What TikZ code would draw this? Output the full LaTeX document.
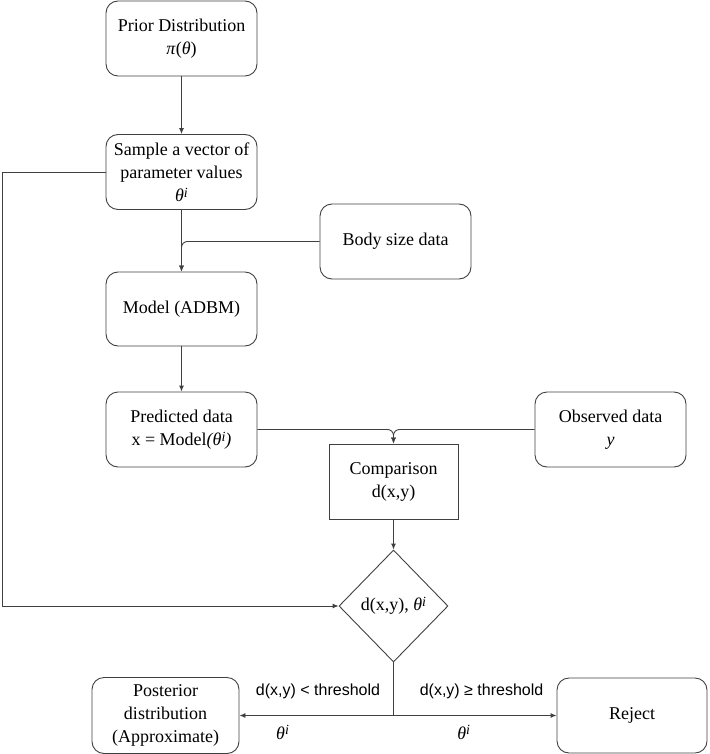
\documentclass[tikz,border=0pt]{standalone}
\usepackage{fontspec}
\setmainfont{Liberation Serif}
\newfontfamily\lsans{Liberation Sans}
\usetikzlibrary{arrows.meta,shapes.geometric}

\newcommand{\supi}{\raisebox{0.5ex}{\fontsize{14}{14}\selectfont\textit{i}}}
\newcommand{\thi}{\textit{θ}\supi}

\begin{document}
\begin{tikzpicture}[x=1pt, y=-1pt,
    box/.style={rectangle, rounded corners=12pt, draw=black!75, line width=0.9pt,
                minimum width=151pt, minimum height=75pt, inner sep=0pt,
                align=center, font=\fontsize{18}{23}\selectfont},
    cmp/.style={box, sharp corners, minimum width=129pt},
    dec/.style={diamond, aspect=1, draw=black!75, line width=0.9pt,
                minimum width=109pt, minimum height=112pt, inner sep=0pt,
                font=\fontsize{18}{23}\selectfont},
    tr/.style={-{Latex[length=6pt,width=5pt]}, line width=0.9pt, draw=black!75},
    ln/.style={line width=0.9pt, draw=black!75},
    lbl/.style={font=\lsans\fontsize{16}{19}\selectfont}
]
\useasboundingbox (0,0) rectangle (709,754);

\node[box] (prior) at (181.5,38.5) {Prior Distribution\\\textit{π}(\textit{θ})};
\node[box] (sample) at (181.5,172) {Sample a vector of\\parameter values\\\thi};
\node[box] (body) at (395.5,241.5) {Body size data};
\node[box, minimum height=74pt] (model) at (181.5,309) {Model (ADBM)};
\node[box] (pred) at (181.5,429.5) {Predicted data\\x = Model\textit{(θ\supi)}};
\node[box] (obs) at (610.5,429.5) {Observed data\\\textit{y}};
\node[cmp] (comp) at (393.5,481.5) {Comparison\\d(x,y)};
\node[dec] (check) at (393.5,606) {d(x,y), \thi};
\node[box, minimum width=147pt, minimum height=76pt] (post) at (165.5,715.5)
    {Posterior\\distribution\\(Approximate)};
\node[box, minimum width=150pt] (reject) at (632,715.5) {Reject};

\coordinate (lft) at (2,606);
\coordinate (split) at (check.south |- post.east);

\draw[tr] (prior.south) -- (sample.north);
\draw[tr] (sample.south) -- (model.north);
\draw[tr, rounded corners=6pt] (body.west) -| (model.north);
\draw[tr] (model.south) -- (pred.north);

\draw[tr, rounded corners=6pt] (pred.east) -| (comp.north);
\draw[tr, rounded corners=6pt] (obs.west) -| (comp.north);
\draw[tr] (comp.south) -- (check.north);

\draw[tr] (sample.west) -| (lft) -- (check.west);

\draw[ln] (check.south) -- (split);
\draw[tr] (split) --
    node[lbl, pos=0.49, yshift=24pt] {d(x,y) < threshold}
    node[pos=0.72, yshift=-17pt, font=\fontsize{18}{23}\selectfont] {\thi} (post.east);
\draw[tr] (split) --
    node[lbl, pos=0.54, yshift=24pt] {d(x,y) ≥ threshold}
    node[pos=0.43, yshift=-17pt, font=\fontsize{18}{23}\selectfont] {\thi} (reject.west);
\end{tikzpicture}
\end{document}
